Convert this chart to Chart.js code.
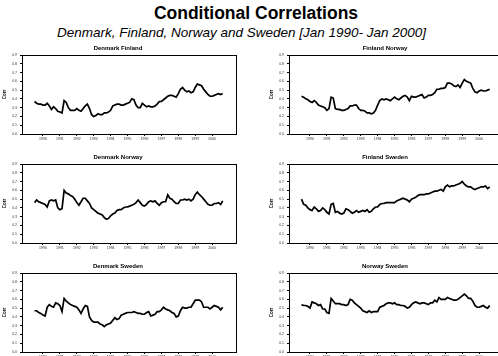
<!DOCTYPE html>
<html>
<head>
<meta charset="utf-8">
<script src="https://cdn.jsdelivr.net/npm/chart.js@4"></script>
<style>
  body { margin: 0; width: 498px; height: 356px; overflow: hidden; background: #fff; position: relative; font-family: "Liberation Sans", Arial, sans-serif; }
  #titulo { position: absolute; left: 0; top: 3px; width: 512px; text-align: center; font-weight: bold; font-size: 17.5px; line-height: 20px; }
  #subtitulo { position: absolute; left: 0; top: 25px; width: 483px; text-align: center; font-style: italic; font-size: 13.5px; line-height: 16px; }
  canvas { position: absolute; }
</style>
</head>
<body>
<div id="titulo">Conditional Correlations</div>
<div id="subtitulo">Denmark, Finland, Norway and Sweden [Jan 1990- Jan 2000]</div>
<canvas id="g1" width="239" height="100" style="left:0px;top:44px"></canvas>
<canvas id="g2" width="239" height="100" style="left:267px;top:44px"></canvas>
<canvas id="g3" width="239" height="100" style="left:0px;top:153px"></canvas>
<canvas id="g4" width="239" height="100" style="left:267px;top:153px"></canvas>
<canvas id="g5" width="239" height="100" style="left:0px;top:262px"></canvas>
<canvas id="g6" width="239" height="100" style="left:267px;top:262px"></canvas>
<script>
// eje x: años con etiqueta
const tickYears = [1990, 1991, 1992, 1993, 1994, 1995, 1996, 1997, 1998, 1999, 2000]

// correlaciones (una observacion cada 1/8 de año desde mediados de 1989)
const denmarkFinland = [0.37, 0.35, 0.34, 0.34, 0.33, 0.33, 0.35, 0.32, 0.28, 0.31, 0.29, 0.26, 0.25, 0.24, 0.38, 0.36,
  0.30, 0.27, 0.27, 0.27, 0.29, 0.27, 0.26, 0.29, 0.32, 0.34, 0.29, 0.22, 0.20, 0.21, 0.23, 0.22, 0.22, 0.24, 0.24, 0.25,
  0.27, 0.32, 0.33, 0.34, 0.34, 0.33, 0.33, 0.34, 0.35, 0.36, 0.40, 0.39, 0.33, 0.30, 0.30, 0.35, 0.33, 0.31, 0.32, 0.31,
  0.31, 0.32, 0.34, 0.37, 0.37, 0.39, 0.41, 0.43, 0.44, 0.44, 0.43, 0.42, 0.46, 0.51, 0.53, 0.50, 0.48, 0.49, 0.47, 0.48,
  0.53, 0.57, 0.56, 0.55, 0.51, 0.48, 0.45, 0.43, 0.43, 0.44, 0.45, 0.46, 0.45, 0.46]

const finlandNorway = [0.43, 0.42, 0.40, 0.39, 0.37, 0.36, 0.38, 0.36, 0.33, 0.32, 0.31, 0.30, 0.27, 0.29, 0.42, 0.41,
  0.29, 0.28, 0.28, 0.27, 0.27, 0.28, 0.29, 0.32, 0.32, 0.33, 0.33, 0.29, 0.27, 0.27, 0.26, 0.24, 0.24, 0.23, 0.24, 0.27,
  0.33, 0.38, 0.40, 0.39, 0.40, 0.39, 0.38, 0.40, 0.42, 0.40, 0.39, 0.41, 0.43, 0.44, 0.42, 0.38, 0.43, 0.42, 0.42, 0.43,
  0.44, 0.45, 0.41, 0.42, 0.44, 0.44, 0.45, 0.47, 0.51, 0.51, 0.52, 0.52, 0.53, 0.58, 0.58, 0.57, 0.55, 0.54, 0.56, 0.53,
  0.58, 0.62, 0.60, 0.59, 0.58, 0.52, 0.48, 0.47, 0.49, 0.50, 0.49, 0.49, 0.50, 0.51]

const denmarkNorway = [0.46, 0.49, 0.47, 0.46, 0.45, 0.44, 0.41, 0.48, 0.49, 0.48, 0.49, 0.40, 0.38, 0.39, 0.60, 0.57,
  0.56, 0.54, 0.53, 0.50, 0.46, 0.43, 0.47, 0.51, 0.51, 0.48, 0.45, 0.40, 0.38, 0.36, 0.34, 0.33, 0.32, 0.29, 0.27, 0.28,
  0.31, 0.33, 0.34, 0.37, 0.38, 0.38, 0.40, 0.41, 0.41, 0.42, 0.43, 0.44, 0.46, 0.49, 0.46, 0.43, 0.42, 0.44, 0.47, 0.48,
  0.47, 0.48, 0.45, 0.43, 0.46, 0.47, 0.47, 0.55, 0.51, 0.50, 0.47, 0.45, 0.45, 0.49, 0.49, 0.50, 0.49, 0.50, 0.48, 0.50,
  0.55, 0.58, 0.55, 0.53, 0.50, 0.47, 0.44, 0.43, 0.43, 0.45, 0.45, 0.46, 0.44, 0.48]

const finlandSweden = [0.50, 0.44, 0.43, 0.40, 0.38, 0.37, 0.41, 0.39, 0.36, 0.37, 0.40, 0.38, 0.35, 0.33, 0.44, 0.45,
  0.35, 0.36, 0.34, 0.33, 0.34, 0.39, 0.38, 0.36, 0.34, 0.35, 0.37, 0.35, 0.36, 0.37, 0.36, 0.38, 0.35, 0.36, 0.39, 0.41,
  0.41, 0.44, 0.45, 0.45, 0.46, 0.46, 0.46, 0.46, 0.46, 0.48, 0.49, 0.50, 0.51, 0.50, 0.49, 0.47, 0.50, 0.51, 0.52, 0.54,
  0.55, 0.55, 0.55, 0.56, 0.56, 0.57, 0.58, 0.59, 0.59, 0.60, 0.61, 0.59, 0.64, 0.66, 0.64, 0.65, 0.65, 0.66, 0.67, 0.68,
  0.70, 0.67, 0.65, 0.64, 0.64, 0.62, 0.61, 0.62, 0.63, 0.64, 0.64, 0.65, 0.62, 0.64]

const denmarkSweden = [0.47, 0.47, 0.45, 0.44, 0.42, 0.41, 0.51, 0.54, 0.52, 0.51, 0.56, 0.55, 0.53, 0.46, 0.61, 0.58,
  0.56, 0.54, 0.53, 0.52, 0.51, 0.48, 0.44, 0.49, 0.53, 0.52, 0.40, 0.36, 0.34, 0.34, 0.34, 0.32, 0.31, 0.29, 0.31, 0.32,
  0.33, 0.36, 0.39, 0.37, 0.38, 0.42, 0.43, 0.44, 0.45, 0.45, 0.45, 0.46, 0.45, 0.44, 0.44, 0.43, 0.43, 0.45, 0.46, 0.41,
  0.42, 0.43, 0.46, 0.46, 0.48, 0.51, 0.49, 0.48, 0.47, 0.45, 0.44, 0.40, 0.41, 0.47, 0.51, 0.50, 0.50, 0.51, 0.51, 0.55,
  0.59, 0.59, 0.59, 0.57, 0.51, 0.51, 0.51, 0.49, 0.51, 0.53, 0.52, 0.51, 0.48, 0.51]

const norwaySweden = [0.54, 0.53, 0.53, 0.52, 0.50, 0.57, 0.56, 0.55, 0.53, 0.54, 0.49, 0.49, 0.45, 0.44, 0.61, 0.58,
  0.55, 0.55, 0.55, 0.54, 0.54, 0.53, 0.54, 0.60, 0.59, 0.56, 0.54, 0.52, 0.50, 0.47, 0.46, 0.45, 0.47, 0.45, 0.46, 0.46,
  0.46, 0.51, 0.52, 0.53, 0.55, 0.56, 0.56, 0.55, 0.56, 0.54, 0.54, 0.53, 0.53, 0.52, 0.50, 0.51, 0.54, 0.56, 0.57, 0.56,
  0.55, 0.56, 0.56, 0.55, 0.54, 0.56, 0.56, 0.59, 0.57, 0.62, 0.60, 0.60, 0.60, 0.62, 0.61, 0.60, 0.59, 0.59, 0.60, 0.62,
  0.64, 0.66, 0.64, 0.61, 0.61, 0.58, 0.53, 0.51, 0.51, 0.52, 0.53, 0.51, 0.50, 0.53]

const fuente = "'Liberation Sans', Arial, sans-serif"

// marco arriba y a la derecha del grafico
const marco = {
  id: 'marco',
  afterDraw(chart) {
    const { ctx, chartArea } = chart
    ctx.save()
    ctx.strokeStyle = '#000'
    ctx.lineWidth = 1
    ctx.strokeRect(Math.round(chartArea.left) + 0.5, Math.round(chartArea.top) + 0.5,
      Math.round(chartArea.right - chartArea.left), Math.round(chartArea.bottom - chartArea.top))
    ctx.restore()
  }
}

function crearGrafica(id, titulo, valores) {
  const puntos = valores.map((v, i) => ({ x: 1989.5 + i / 8, y: v }))
  return new Chart(id, {
    type: 'line',
    data: {
      datasets: [{
        data: puntos,
        borderColor: '#000',
        borderWidth: 1.7,
        pointRadius: 0,
        tension: 0,
        fill: false
      }]
    },
    options: {
      responsive: false,
      animation: false,
      devicePixelRatio: 1,
      layout: { padding: { left: 0, right: 3, top: 0, bottom: 0 } },
      plugins: {
        legend: { display: false },
        tooltip: { enabled: false },
        title: {
          display: true,
          text: titulo,
          color: '#000',
          font: { family: fuente, size: 6, weight: 'bold', lineHeight: 1.2 },
          padding: { top: 1, bottom: 2.8 }
        }
      },
      scales: {
        x: {
          type: 'linear',
          min: 1988.76,
          max: 2001.41,
          afterBuildTicks: s => { s.ticks = tickYears.map(v => ({ value: v })) },
          afterFit: s => { s.height = 10 },
          grid: { drawOnChartArea: false, drawTicks: true, tickLength: 2, color: '#000' },
          border: { display: true, color: '#000', width: 1 },
          ticks: { color: '#333', font: { family: fuente, size: 3.5 }, padding: 0.5, maxRotation: 0, autoSkip: false, callback: v => String(v) }
        },
        y: {
          min: 0,
          max: 0.9,
          afterFit: s => { s.width = 22 },
          grid: { drawOnChartArea: false, drawTicks: true, tickLength: 2, color: '#000' },
          border: { display: true, color: '#000', width: 1 },
          ticks: { stepSize: 0.1, color: '#333', font: { family: fuente, size: 3.5 }, padding: 3, callback: v => v.toFixed(1) },
          title: { display: true, text: 'Corr', color: '#000', font: { family: fuente, size: 4.5, weight: 'bold', lineHeight: 1.2 }, padding: { top: 2.5, bottom: 0 } }
        }
      }
    },
    plugins: [marco]
  })
}

crearGrafica('g1', 'Denmark Finland', denmarkFinland)
crearGrafica('g2', 'Finland Norway', finlandNorway)
crearGrafica('g3', 'Denmark Norway', denmarkNorway)
crearGrafica('g4', 'Finland Sweden', finlandSweden)
crearGrafica('g5', 'Denmark Sweden', denmarkSweden)
crearGrafica('g6', 'Norway Sweden', norwaySweden)
</script>
</body>
</html>
